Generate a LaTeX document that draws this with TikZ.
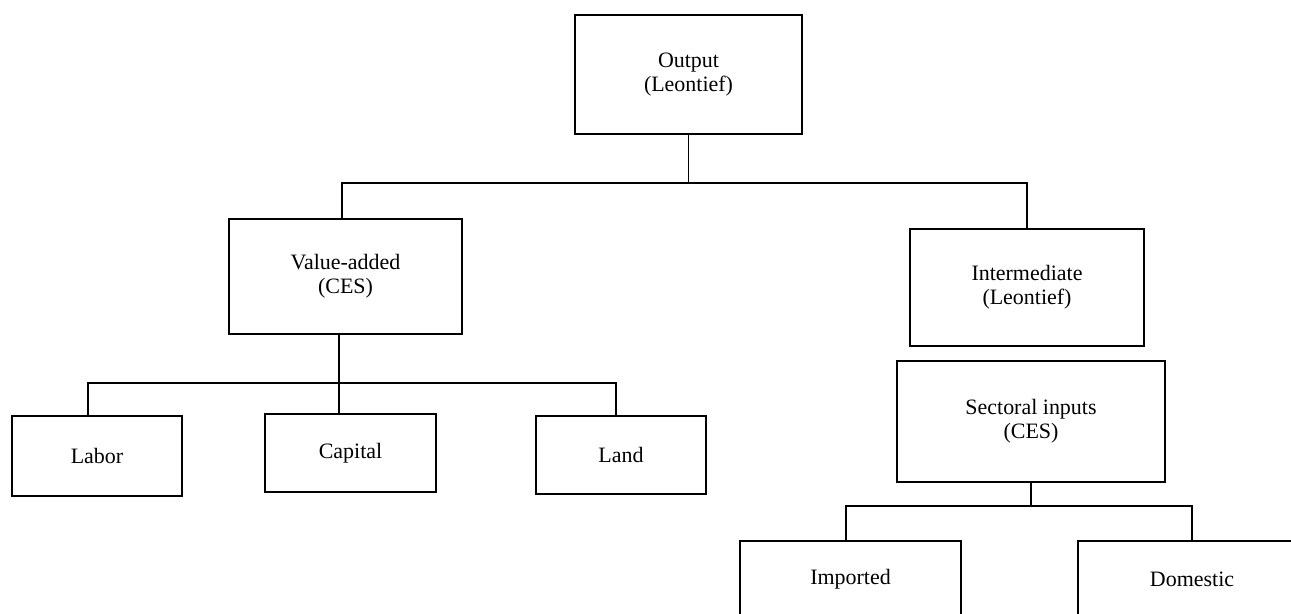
\documentclass[tikz,border=0pt]{standalone}
\usepackage{fontspec}
\setmainfont{Liberation Serif}
\begin{document}
\begin{tikzpicture}
	[
	x=0.02cm, y=-0.02cm,
	align=center,
	line width=1.1pt,
	font=\fontsize{12.5}{13.7}\selectfont,
	boxsize/.style 2 args={minimum width=#1*0.02cm, minimum height=#2*0.02cm},
	every node/.style={rectangle, fill=white, draw=black, inner sep=0pt}
	]
		\useasboundingbox (0,0) rectangle (1291,614);
		\clip (0,0) rectangle (1291,614);
		
		% level 1
		\node [boxsize={227}{119}] (out) at (688.5, 74.5) {Output\\(Leontief)};
		
		% level 2
		\node [boxsize={233}{115}] (va) at (345.5, 276.5) {Value-added\\(CES)};
		\node [boxsize={234}{117}] (mid) at (1027, 287.5) {Intermediate\\(Leontief)};
		
		% level 3
		\node [boxsize={170}{80}] (labor) at (97, 456) {Labor};
		\node [boxsize={171}{78}] (capital) at (350.5, 453) {Capital};
		\node [boxsize={170}{78}] (land) at (621, 455) {Land};
		\node [boxsize={268}{121}] (sect) at (1031, 421.5) {Sectoral inputs\\(CES)};
		
		% level 4 (runs off the page)
		\node [boxsize={221}{76}] (imp) at (850.5, 579) {Imported};
		\node [boxsize={228}{76}] (dom) at (1192, 579) {Domestic};
		
		% drawing code (dx = offset of the joint from the box centre, in px)
		\foreach \to/\dx in {va/-3.5,mid/0} \draw (out.south) -- ++(0,48) -| ([xshift=\dx*0.02cm]\to.north);
		\foreach \to/\dx in {labor/-9,capital/-11.5,land/-5} \draw ([xshift=-6.5*0.02cm]va.south) -- ++(0,48) -| ([xshift=\dx*0.02cm]\to.north);
		\foreach \to/\dx in {imp/-4.5,dom/0} \draw (sect.south) -- ++(0,23) -| ([xshift=\dx*0.02cm]\to.north);
	\end{tikzpicture}
\end{document}
